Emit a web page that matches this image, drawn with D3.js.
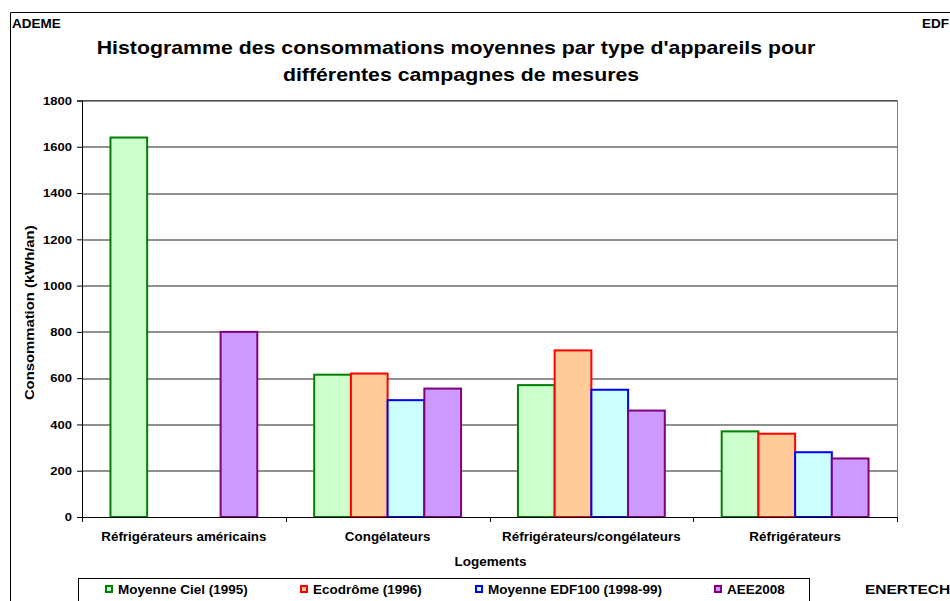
<!DOCTYPE html>
<html>
<head>
<meta charset="utf-8">
<script src="https://cdn.jsdelivr.net/npm/d3@7"></script>
<style>
  body { margin: 0; background: #fff; }
  svg { display: block; font-family: Arial, "Liberation Sans", sans-serif; }
  text { font-weight: bold; fill: #000; }
</style>
</head>
<body>
<div id="chart"></div>
<script>
// data
const categories = ["Réfrigérateurs américains", "Congélateurs", "Réfrigérateurs/congélateurs", "Réfrigérateurs"];
const seriesNames = ["Moyenne Ciel (1995)", "Ecodrôme (1996)", "Moyenne EDF100 (1998-99)", "AEE2008"];
const cielValues = [1640, 615, 570, 370];
const ecodromeValues = [null, 620, 720, 360];
const edfValues = [null, 505, 550, 280];
const aeeValues = [800, 555, 460, 253];
const yTicks = [0, 200, 400, 600, 800, 1000, 1200, 1400, 1600, 1800];

const fills = ["#CCFFCC", "#FFCC99", "#CCFFFF", "#CC99FF"];
const strokes = ["#008000", "#FF0000", "#0000FF", "#800080"];

const W = 950, H = 601;
const margin = { top: 100.5, right: 53, bottom: 84, left: 82 };
const width = W - margin.left - margin.right;
const height = H - margin.top - margin.bottom;

const svg = d3.select("#chart").append("svg")
	.attr("width", W)
	.attr("height", H);

// text helper: the original text is a bit wider than tall
function label(parent, x, y, str, size, sy, anchor) {
	return parent.append("text")
		.attr("transform", `translate(${x},${y}) scale(1,${sy})`)
		.attr("text-anchor", anchor || "start")
		.style("font-size", size + "px")
		.text(str);
}

// outer frame (runs off the right and bottom)
svg.append("path")
	.attr("d", `M10.5,${H + 5} V12.5 H${W + 5}`)
	.attr("fill", "none")
	.attr("stroke", "#000")
	.attr("stroke-width", 1);

label(svg, 12, 28, "ADEME", 13.5, 0.95);
label(svg, 922, 28, "EDF", 13.5, 0.95);
label(svg, 865, 594, "ENERTECH", 15.5, 0.85);

// title
label(svg, 456, 54, "Histogramme des consommations moyennes par type d'appareils pour", 21.3, 0.86, "middle");
label(svg, 461, 80.5, "différentes campagnes de mesures", 21.3, 0.86, "middle");

const g = svg.append("g").attr("transform", `translate(${margin.left},${margin.top})`);

const xScale = d3.scaleBand()
	.domain(categories)
	.range([0, width]);

const xInner = d3.scaleBand()
	.domain(seriesNames)
	.range([0, xScale.bandwidth()])
	.paddingOuter(0.775);

const yScale = d3.scaleLinear()
	.domain([0, 1800])
	.range([height, 0]);

// plot border
g.append("rect")
	.attr("x", 0).attr("y", 0)
	.attr("width", width).attr("height", height)
	.attr("fill", "none")
	.attr("stroke", "#808080")
	.attr("shape-rendering", "crispEdges");

// gridlines
g.append("g")
	.selectAll("line")
	.data(yTicks.filter(d => d > 0))
	.join("line")
	.attr("x1", 0).attr("x2", width)
	.attr("y1", d => Math.round(yScale(d)) + 0.5)
	.attr("y2", d => Math.round(yScale(d)) + 0.5)
	.attr("stroke", "#222");

// bars
const series = [cielValues, ecodromeValues, edfValues, aeeValues];
const barData = [];
categories.forEach((c, i) => {
	series.forEach((vals, s) => {
		if (vals[i] != null) barData.push({ cat: c, s: s, value: vals[i] });
	});
});

g.append("g")
	.selectAll("rect")
	.data(barData)
	.join("rect")
	.attr("x", d => xScale(d.cat) + xInner(seriesNames[d.s]))
	.attr("y", d => yScale(d.value))
	.attr("width", xInner.bandwidth())
	.attr("height", d => height - yScale(d.value))
	.attr("fill", d => fills[d.s])
	.attr("stroke", d => strokes[d.s])
	.attr("stroke-width", 2);

// axes
const yAxis = d3.axisLeft(yScale).tickValues(yTicks).tickSize(5).tickFormat("");
const yG = g.append("g").attr("class", "y-axis").call(yAxis);
yG.select(".domain").attr("stroke", "#000");
yTicks.forEach(t => label(g, -10, yScale(t) + 4.3, d3.format("d")(t), 13, 0.85, "end"));

const xAxis = d3.axisBottom(xScale).tickSize(0).tickFormat("");
const xG = g.append("g").attr("transform", `translate(0,${height})`).call(xAxis);
xG.select(".domain").attr("stroke", "#000");

// category separator ticks
g.append("g")
	.selectAll("line")
	.data(d3.range(categories.length + 1))
	.join("line")
	.attr("x1", i => Math.round(i * xScale.step()) + 0.5)
	.attr("x2", i => Math.round(i * xScale.step()) + 0.5)
	.attr("y1", height)
	.attr("y2", height + 5)
	.attr("stroke", "#000");

categories.forEach(c => label(g, xScale(c) + xScale.bandwidth() / 2, height + 23.5, c, 13.4, 0.9, "middle"));

// axis titles
label(svg, margin.left + width / 2 + 1, 565.5, "Logements", 13.5, 0.92, "middle");
svg.append("text")
	.attr("transform", `translate(34,${margin.top + height / 2 + 4}) rotate(-90) scale(1.1,0.92)`)
	.attr("text-anchor", "middle").style("font-size", "13.5px").text("Consommation (kWh/an)");

// legend
const legend = svg.append("g");
legend.append("rect")
	.attr("x", 78.5).attr("y", 578.5)
	.attr("width", 731).attr("height", 40)
	.attr("fill", "#fff").attr("stroke", "#000");

const legendX = [106, 301, 476, 715];
seriesNames.forEach((name, i) => {
	legend.append("rect")
		.attr("x", legendX[i]).attr("y", 586)
		.attr("width", 6).attr("height", 6)
		.attr("fill", fills[i]).attr("stroke", strokes[i]).attr("stroke-width", 2);
	label(legend, legendX[i] + 12, 593.5, name, 13.5, 0.9);
});
</script>
</body>
</html>
